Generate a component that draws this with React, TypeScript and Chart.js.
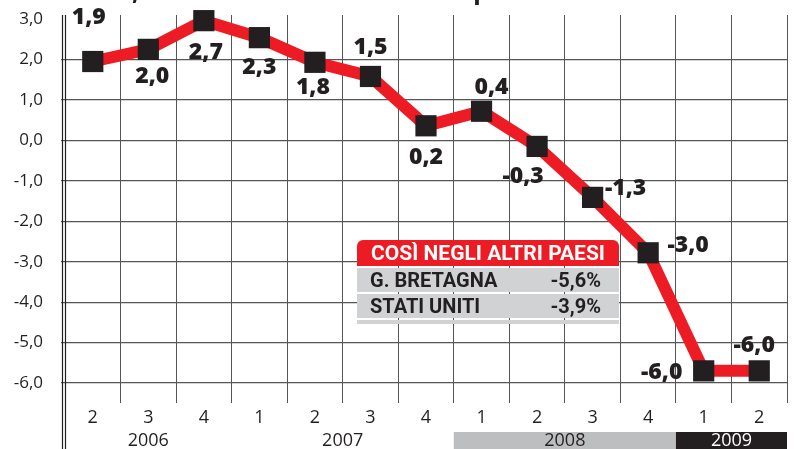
import React, { useEffect, useRef } from 'react';
import { Chart, registerables } from 'chart.js';

Chart.register(...registerables);

// ---- data ----
const quarters = ['2', '3', '4', '1', '2', '3', '4', '1', '2', '3', '4', '1', '2'];
const years = ['2006', '2006', '2006', '2007', '2007', '2007', '2007', '2008', '2008', '2008', '2008', '2009', '2009'];
const values = [1.95, 2.25, 2.96, 2.54, 1.93, 1.58, 0.36, 0.72, -0.15, -1.41, -2.78, -5.7, -5.7];
const printedLabels = ['1,9', '2,0', '2,7', '2,3', '1,8', '1,5', '0,2', '0,4', '-0,3', '-1,3', '-3,0', '-6,0', '-6,0'];
const yTicks = [-6, -5, -4, -3, -2, -1, 0, 1, 2, 3];
const titleText = "Variazioni %, sullo stesso trimestre dell'anno precedente";
const boxTitle = 'COSÌ NEGLI ALTRI PAESI';
const otherCountries = ['G. BRETAGNA', 'STATI UNITI'];
const otherValues = ['-5,6%', '-3,9%'];

// ---- style ----
const RED = '#ed1c24';
const INK = '#231f20';
const GRID = '#555555';
const labelOffsets: [number, number][] = [
  [-4, -44], [4, 27], [2, 32], [0, 30], [-2, 25], [0, -29], [0, 32],
  [10, -24], [-14, 30], [33, -9], [40, -7], [-42, 2], [-5, -25],
];
const yearBands: Record<string, { bg: string; fg: string } | undefined> = {
  '2008': { bg: '#bcbec0', fg: INK },
  '2009': { bg: INK, fg: '#ffffff' },
};

const fmt = (v: number) => v.toFixed(1).replace('.', ',');

export default function App() {
  const ref = useRef<HTMLCanvasElement | null>(null);

  useEffect(() => {
    document.body.style.margin = '0';
    const canvas = ref.current;
    if (!canvas) return;

    const yTop = yTicks[yTicks.length - 1];

    const decorations = {
      id: 'decorations',
      afterDraw(chart: any) {
        const { ctx, chartArea } = chart;
        const xs = chart.scales.x;
        const step = xs.getPixelForValue(1) - xs.getPixelForValue(0);
        ctx.save();
        // double left axis line
        ctx.strokeStyle = INK;
        ctx.lineWidth = 1.2;
        [chartArea.left - 2.5, chartArea.left + 0.5].forEach((x) => {
          ctx.beginPath();
          ctx.moveTo(x, chartArea.top);
          ctx.lineTo(x, 449);
          ctx.stroke();
        });
        // year groups
        const groups: { year: string; from: number; to: number }[] = [];
        years.forEach((y, i) => {
          const g = groups[groups.length - 1];
          if (g && g.year === y) g.to = i;
          else groups.push({ year: y, from: i, to: i });
        });
        ctx.font = '18px "Open Sans"';
        ctx.textAlign = 'center';
        ctx.textBaseline = 'middle';
        const bandTop = 432;
        groups.forEach((g) => {
          const band = yearBands[g.year];
          const x0 = xs.getPixelForValue(g.from);
          const x1 = xs.getPixelForValue(g.to);
          let cx = (x0 + x1) / 2;
          if (band) {
            const left = x0 - step / 2;
            const right = Math.min(x1 + step / 2, chartArea.right);
            ctx.fillStyle = band.bg;
            ctx.fillRect(left, bandTop, right - left, 449 - bandTop);
            cx = (left + right) / 2;
            ctx.fillStyle = band.fg;
          } else {
            ctx.fillStyle = INK;
          }
          ctx.fillText(g.year, cx, 441);
        });
        ctx.restore();
      },
      afterDatasetsDraw(chart: any) {
        const { ctx } = chart;
        const meta = chart.getDatasetMeta(0);
        ctx.save();
        ctx.font = '800 23px "Open Sans"';
        ctx.fillStyle = INK;
        ctx.textAlign = 'center';
        ctx.textBaseline = 'middle';
        meta.data.forEach((pt: any, i: number) => {
          const [dx, dy] = labelOffsets[i];
          ctx.fillText(printedLabels[i], pt.x + dx, pt.y + dy);
        });
        ctx.restore();
      },
    };

    const chart = new Chart(canvas, {
      type: 'line',
      data: {
        labels: quarters,
        datasets: [
          {
            data: values,
            borderColor: RED,
            borderWidth: 12,
            tension: 0,
            pointStyle: 'rect',
            pointRadius: 15,
            pointBorderWidth: 0,
            pointBackgroundColor: INK,
            pointBorderColor: INK,
            clip: false as any,
          },
        ],
      },
      options: {
        animation: false,
        responsive: false,
        devicePixelRatio: 1,
        layout: { padding: { top: 14, left: 0, right: 0, bottom: 0 } },
        plugins: { legend: { display: false }, tooltip: { enabled: false } },
        scales: {
          x: {
            type: 'category',
            offset: true,
            border: { display: false },
            grid: {
              offset: true,
              color: GRID,
              lineWidth: 1,
              tickLength: 20,
              drawTicks: true,
            },
            ticks: {
              color: INK,
              font: { family: '"Open Sans"', size: 18 },
              padding: 4,
              maxRotation: 0,
              autoSkip: false,
            },
            afterFit(scale: any) {
              scale.height = 66;
              scale.paddingLeft = 0;
              scale.paddingRight = 0;
            },
          },
          y: {
            min: yTicks[0],
            max: yTop + 0.1,
            border: { display: false },
            grid: {
              color: (c: any) => (c.tick && c.tick.value === yTop ? 'rgba(0,0,0,0)' : GRID),
              lineWidth: 1.2,
              tickLength: 4,
            },
            ticks: {
              color: INK,
              font: { family: '"Open Sans"', size: 17 },
              padding: 18,
              callback: (v: any) => fmt(Number(v)),
            },
            afterBuildTicks(scale: any) {
              scale.ticks = yTicks.map((v) => ({ value: v }));
            },
            afterFit(scale: any) {
              scale.width = 65;
              scale.paddingTop = 0;
              scale.paddingBottom = 0;
            },
          },
        },
      },
      plugins: [decorations],
    });

    return () => chart.destroy();
  }, []);

  return (
    <div style={{ position: 'relative', width: 802, height: 449, overflow: 'hidden', background: '#fff' }}>
      <canvas ref={ref} width={802} height={449} style={{ display: 'block', width: 802, height: 449 }} />
      <div
        style={{
          position: 'absolute',
          left: 4,
          top: -17,
          font: '800 20px "Open Sans"',
          color: INK,
          whiteSpace: 'nowrap',
          lineHeight: '20px',
        }}
      >
        {titleText}
      </div>
      <div
        style={{
          position: 'absolute',
          left: 357,
          top: 240,
          width: 262,
          fontFamily: 'Roboto',
          fontWeight: 700,
          color: INK,
        }}
      >
        <div
          style={{
            background: RED,
            color: '#fff',
            height: 26,
            lineHeight: '26px',
            fontSize: 21,
            borderRadius: '6px 6px 0 0',
            textAlign: 'center',
          }}
        >
          {boxTitle}
        </div>
        {otherCountries.map((c, i) => (
          <div
            key={c}
            style={{
              marginTop: 2,
              background: '#d1d2d4',
              height: 24,
              lineHeight: '24px',
              fontSize: 20,
              display: 'flex',
              justifyContent: 'space-between',
              padding: '0 18px 0 13px',
            }}
          >
            <span>{c}</span>
            <span>{otherValues[i]}</span>
          </div>
        ))}
        <div style={{ marginTop: 2, background: '#d1d2d4', height: 4 }} />
      </div>
    </div>
  );
}
